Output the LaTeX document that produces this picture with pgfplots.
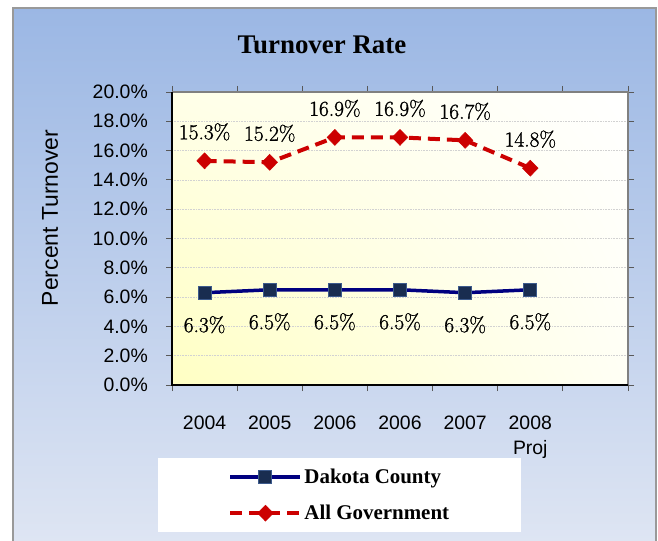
\documentclass[border=0pt]{standalone}
\usepackage{pgfplots}
\pgfplotsset{compat=1.18}
\usetikzlibrary{shadings}
\usepackage{fontspec}
\newfontfamily\arial{Liberation Sans}
\newfontfamily\tnr{Liberation Serif}
\newfontfamily\lmd[FakeBold=1.2]{Latin Modern Roman}
\definecolor{bgtop}{RGB}{155,183,228}
\definecolor{bgbot}{RGB}{222,229,243}
\definecolor{navy}{RGB}{0,0,128}
\definecolor{mkfill}{RGB}{25,45,80}
\definecolor{mkdraw}{RGB}{60,90,140}
\definecolor{govred}{RGB}{204,0,0}
\definecolor{plotyel}{RGB}{255,255,195}
\definecolor{plotyel2}{RGB}{255,255,232}
\definecolor{plotyel3}{RGB}{255,255,245}
\begin{document}
\begin{tikzpicture}
\useasboundingbox (0bp,0bp) rectangle (658bp,541bp);
\fill[white] (0bp,0bp) rectangle (658bp,541bp);
\shade[top color=bgtop, bottom color=bgbot] (13bp,0bp) rectangle (656bp,533bp);
\draw[line width=2bp, color=gray!80] (13bp,0bp) -- (13bp,533bp) -- (656bp,533bp) -- (656bp,0bp);
\begin{axis}[
  at={(172bp,156bp)}, anchor=south west,
  width=456bp, height=293bp, scale only axis,
  xmin=-0.5, xmax=6.5, ymin=0, ymax=20,
  axis line style={draw=none},
  axis background/.style={shade, lower left=plotyel, upper left=plotyel2, lower right=plotyel3, upper right=white},
  ytick={0,2,...,20},
  yticklabels={0.0\%,2.0\%,4.0\%,6.0\%,8.0\%,10.0\%,12.0\%,14.0\%,16.0\%,18.0\%,20.0\%},
  xtick={-0.5,0.5,...,6.5},
  xticklabels={,,,,,,,,},
  extra x ticks={0,1,2,3,4,5},
  extra x tick labels={2004,2005,2006,2006,2007,{2008\\Proj}},
  extra x tick style={major tick length=0pt},
  tick align=outside,
  major tick length=6bp,
  tick style={color=gray!70!black, line width=0.8bp},
  ymajorgrids,
  major grid style={gray!35, line width=0.6bp, densely dotted},
  yticklabel style={font=\arial\fontsize{19.5}{22}\selectfont, anchor=east, inner sep=0pt, xshift=-18bp},
  xticklabel style={font=\arial\fontsize{19.5}{25}\selectfont, align=center, anchor=north, inner sep=0pt, yshift=-31bp},
  clip=false,
  legend style={at={(0.368,-0.249)}, anchor=north, draw=none, fill=white,
    font=\tnr\bfseries\fontsize{21}{24}\selectfont, inner xsep=70bp, inner ysep=9bp,
    row sep=16bp, legend cell align=left},
  legend image code/.code={\draw[mark repeat=2,mark phase=2] plot coordinates {(0bp,0bp)(35bp,0bp)(70bp,0bp)};},
]
\addplot[navy, line width=3.5bp, mark=square*, mark size=6.5bp,
  mark options={fill=mkfill, draw=mkdraw, line width=1bp},
  nodes near coords, point meta=explicit symbolic,
  every node near coord/.style={font=\lmd\fontsize{21.5}{23}\selectfont, anchor=center, yshift=-32bp, text=black}]
  coordinates {(0,6.3)[6.3\%] (1,6.5)[6.5\%] (2,6.5)[6.5\%] (3,6.5)[6.5\%] (4,6.3)[6.3\%] (5,6.5)[6.5\%]};
\addlegendentry{Dakota County}
\addplot[govred, line width=4bp, dash pattern=on 12bp off 7bp, mark=diamond*, mark size=8bp,
  mark options={solid, fill=govred, line width=0.5bp, xscale=1.3},
  nodes near coords, point meta=explicit symbolic,
  every node near coord/.style={font=\lmd\fontsize{21.5}{23}\selectfont, anchor=center, yshift=29bp, text=black}]
  coordinates {(0,15.3)[15.3\%] (1,15.2)[15.2\%] (2,16.9)[16.9\%] (3,16.9)[16.9\%] (4,16.7)[16.7\%] (5,14.8)[14.8\%]};
\addlegendentry{All Government}
\draw[gray, line width=2bp] (rel axis cs:0,1) -- (rel axis cs:1,1) -- (rel axis cs:1,0);
\draw[black, line width=1.2bp] (rel axis cs:0,1) -- (rel axis cs:0,0) -- (rel axis cs:1,0);
\end{axis}
\node[font=\tnr\bfseries\fontsize{27}{30}\selectfont] at (322bp,496bp) {Turnover Rate};
\node[rotate=90, font=\arial\fontsize{23}{26}\selectfont] at (50bp,323bp) {Percent Turnover};
\end{tikzpicture}
\end{document}
